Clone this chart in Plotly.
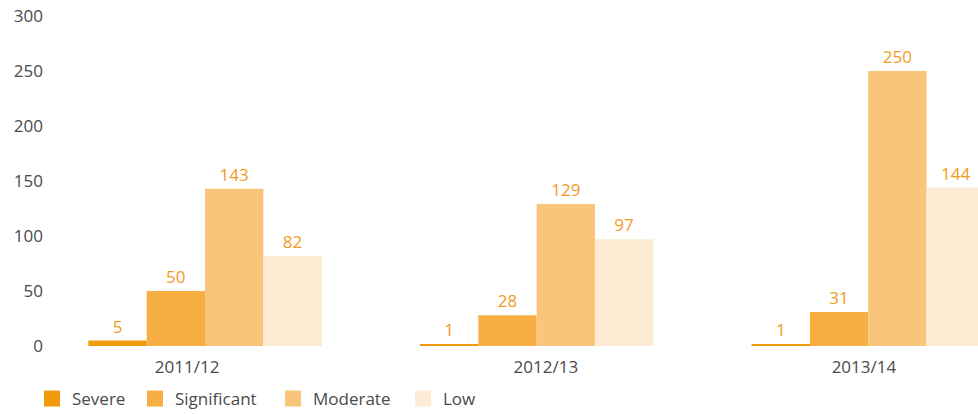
import plotly.graph_objects as go

categories = ["2011/12", "2012/13", "2013/14"]
severe = [5, 1, 1]
significant = [50, 28, 31]
moderate = [143, 129, 250]
low = [82, 97, 144]
series_names = ["Severe", "Significant", "Moderate", "Low"]
y_ticks = [0, 50, 100, 150, 200, 250, 300]

colors = ["#F29A0C", "#F7AE42", "#F9C57B", "#FDEBD4"]
label_color = "#F29A1E"
text_color = "#4A4A4A"
FONT = "Open Sans"

x_idx = list(range(len(categories)))
# label positions as drawn in the original (slightly off the group centres)
tick_pos = [-0.054, 1.028, 1.987]

fig = go.Figure()
for name, vals, col in zip(series_names, [severe, significant, moderate, low], colors):
    fig.add_trace(go.Bar(
        x=x_idx, y=vals, name=name,
        marker=dict(color=col, line=dict(width=0)),
        text=[str(v) for v in vals], textposition="outside",
        textfont=dict(color=label_color, size=17, family=FONT),
        cliponaxis=False, showlegend=False, hoverinfo="skip",
    ))

legend_ids = ["legend", "legend2", "legend3", "legend4"]
legend_px = [32, 135, 273, 403]
for name, col, lid in zip(series_names, colors, legend_ids):
    fig.add_trace(go.Scatter(
        x=[None], y=[None], mode="markers", name=name,
        marker=dict(symbol="square", size=16, color=col),
        showlegend=True, hoverinfo="skip", legend=lid,
    ))

L, R, T, B = 50, 0, 16, 68
plot_w = 978 - L - R
legend_common = dict(orientation="h", xanchor="left", y=-0.1606, yanchor="middle",
                     font=dict(size=17, color=text_color, family=FONT),
                     bgcolor="rgba(0,0,0,0)", itemclick=False, itemdoubleclick=False)
legends = {}
for lid, px in zip(legend_ids, legend_px):
    legends[lid] = dict(legend_common, x=(px - L) / plot_w)

fig.update_layout(
    width=978, height=414,
    margin=dict(l=L, r=R, t=T, b=B, autoexpand=False),
    paper_bgcolor="white", plot_bgcolor="white",
    font=dict(family=FONT, size=17, color=text_color),
    barmode="group", bargap=0.2966, bargroupgap=0,
    xaxis=dict(range=[-0.4674, 2.331], showgrid=False, automargin=False,
               zeroline=False, showline=False, ticks="",
               tickvals=tick_pos, ticktext=categories, ticklabelstandoff=9,
               tickfont=dict(size=17, color=text_color)),
    yaxis=dict(range=[0, 300], tickvals=y_ticks, showgrid=False, automargin=False,
               zeroline=False, showline=False, ticks="", ticklabelstandoff=6,
               tickfont=dict(size=17, color=text_color)),
    showlegend=True,
    **legends,
)

fig.write_html("out.html", config={"displayModeBar": False},
               post_script="document.body.style.margin='0px';")
